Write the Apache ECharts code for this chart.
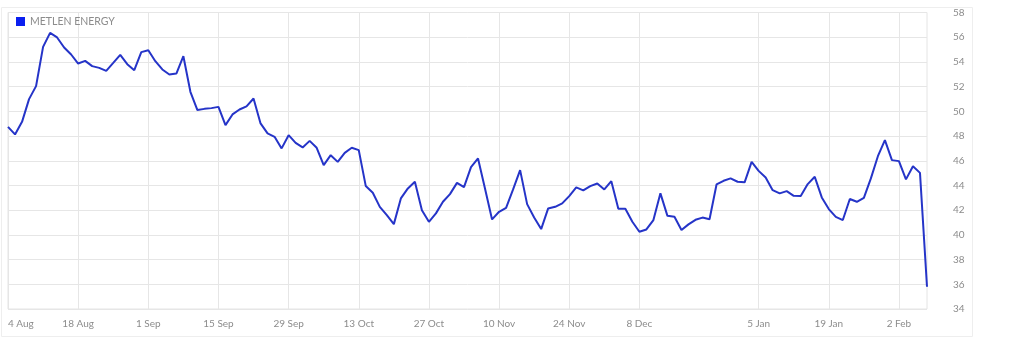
<!DOCTYPE html>
<html>
<head>
<meta charset="utf-8">
<script src="https://cdn.jsdelivr.net/npm/echarts@6/dist/echarts.min.js"></script>
<style>
html,body{margin:0;padding:0;background:#fff;}
#chart{width:1024px;height:341px;}
</style>
</head>
<body>
<div id="chart"></div>
<script>
var seriesName = 'METLEN ENERGY';

var categories = [
 '4 Aug','5 Aug','6 Aug','7 Aug','8 Aug','11 Aug','12 Aug','13 Aug','14 Aug','15 Aug',
 '18 Aug','19 Aug','20 Aug','21 Aug','22 Aug','25 Aug','26 Aug','27 Aug','28 Aug','29 Aug',
 '1 Sep','2 Sep','3 Sep','4 Sep','5 Sep','8 Sep','9 Sep','10 Sep','11 Sep','12 Sep',
 '15 Sep','16 Sep','17 Sep','18 Sep','19 Sep','22 Sep','23 Sep','24 Sep','25 Sep','26 Sep',
 '29 Sep','30 Sep','1 Oct','2 Oct','3 Oct','6 Oct','7 Oct','8 Oct','9 Oct','10 Oct',
 '13 Oct','14 Oct','15 Oct','16 Oct','17 Oct','20 Oct','21 Oct','22 Oct','23 Oct','24 Oct',
 '27 Oct','28 Oct','29 Oct','30 Oct','31 Oct','3 Nov','4 Nov','5 Nov','6 Nov','7 Nov',
 '10 Nov','11 Nov','12 Nov','13 Nov','14 Nov','17 Nov','18 Nov','19 Nov','20 Nov','21 Nov',
 '24 Nov','25 Nov','26 Nov','27 Nov','28 Nov','1 Dec','2 Dec','3 Dec','4 Dec','5 Dec',
 '8 Dec','9 Dec','10 Dec','11 Dec','12 Dec','15 Dec','16 Dec','17 Dec','18 Dec','19 Dec',
 '22 Dec','23 Dec','24 Dec','29 Dec','30 Dec','31 Dec','2 Jan','5 Jan','6 Jan','7 Jan',
 '8 Jan','9 Jan','12 Jan','13 Jan','14 Jan','15 Jan','16 Jan','19 Jan','20 Jan','21 Jan',
 '22 Jan','23 Jan','26 Jan','27 Jan','28 Jan','29 Jan','30 Jan','2 Feb','3 Feb','4 Feb',
 '5 Feb','6 Feb'
];

var prices = [
 48.74,48.13,49.15,50.99,52.04,55.22,56.35,55.98,55.17,54.60,
 53.87,54.08,53.66,53.52,53.28,53.92,54.57,53.82,53.33,54.79,
 54.95,54.06,53.39,52.98,53.06,54.46,51.58,50.10,50.20,50.26,
 50.36,48.88,49.75,50.15,50.40,51.04,49.02,48.21,47.94,47.00,
 48.07,47.45,47.08,47.61,47.05,45.65,46.45,45.91,46.64,47.05,
 46.86,43.95,43.41,42.27,41.60,40.87,42.95,43.76,44.30,42.00,
 41.06,41.74,42.68,43.30,44.21,43.86,45.48,46.19,43.73,41.25,
 41.87,42.19,43.68,45.24,42.49,41.41,40.47,42.14,42.27,42.55,
 43.14,43.84,43.60,43.95,44.16,43.68,44.35,42.11,42.11,41.06,
 40.25,40.44,41.20,43.36,41.54,41.46,40.39,40.85,41.22,41.40,
 41.26,44.08,44.38,44.57,44.30,44.25,45.91,45.18,44.65,43.62,
 43.36,43.54,43.16,43.14,44.11,44.70,43.03,42.09,41.46,41.20,
 42.90,42.68,43.00,44.57,46.37,47.67,46.05,45.97,44.49,45.56,
 45.02,35.80
];

var xTickLabels = ['4 Aug','18 Aug','1 Sep','15 Sep','29 Sep','13 Oct','27 Oct','10 Nov','24 Nov','8 Dec','5 Jan','19 Jan','2 Feb'];

var yMin = 34, yMax = 58, yStep = 2;

function isTick(index, value) {
  return xTickLabels.indexOf(categories[index]) !== -1;
}

var chart = echarts.init(document.getElementById('chart'), null, {renderer: 'canvas'});
var fontFam = 'Lato, "Open Sans", sans-serif';

chart.setOption({
  animation: false,
  backgroundColor: '#ffffff',
  graphic: [{
    type: 'rect',
    shape: {x: 1.5, y: 7.5, width: 971, height: 329},
    style: {fill: 'none', stroke: '#eeeeee', lineWidth: 1},
    silent: true,
    z: -10
  }],
  legend: {
    show: true,
    left: 16,
    top: 16,
    padding: 0,
    icon: 'rect',
    itemWidth: 9,
    itemHeight: 9,
    textStyle: {color: '#8c8c8c', fontSize: 10.5, fontFamily: fontFam},
    data: [{name: seriesName, itemStyle: {color: '#0a1ff0'}}]
  },
  grid: {
    left: 8,
    right: 97,
    top: 12.5,
    bottom: 32,
    show: true,
    borderColor: '#e4e4e4',
    borderWidth: 1,
    containLabel: false
  },
  xAxis: {
    type: 'category',
    data: categories,
    boundaryGap: false,
    axisLine: {show: false},
    axisTick: {show: false},
    axisLabel: {
      interval: isTick,
      color: '#8c8c8c',
      fontSize: 10,
      fontFamily: fontFam,
      margin: 10,
      alignMinLabel: 'left'
    },
    splitLine: {show: true, interval: isTick, lineStyle: {color: '#e6e6e6', width: 1}}
  },
  yAxis: {
    type: 'value',
    position: 'right',
    min: yMin,
    max: yMax,
    interval: yStep,
    axisLine: {show: false},
    axisTick: {show: false},
    axisLabel: {color: '#8c8c8c', fontSize: 10, fontFamily: fontFam, margin: 26},
    splitLine: {show: true, lineStyle: {color: '#e6e6e6', width: 1}}
  },
  series: [{
    name: seriesName,
    type: 'line',
    data: prices,
    showSymbol: false,
    symbol: 'none',
    lineStyle: {color: '#2534c8', width: 2},
    itemStyle: {color: '#2534c8'}
  }]
});
</script>
</body>
</html>
